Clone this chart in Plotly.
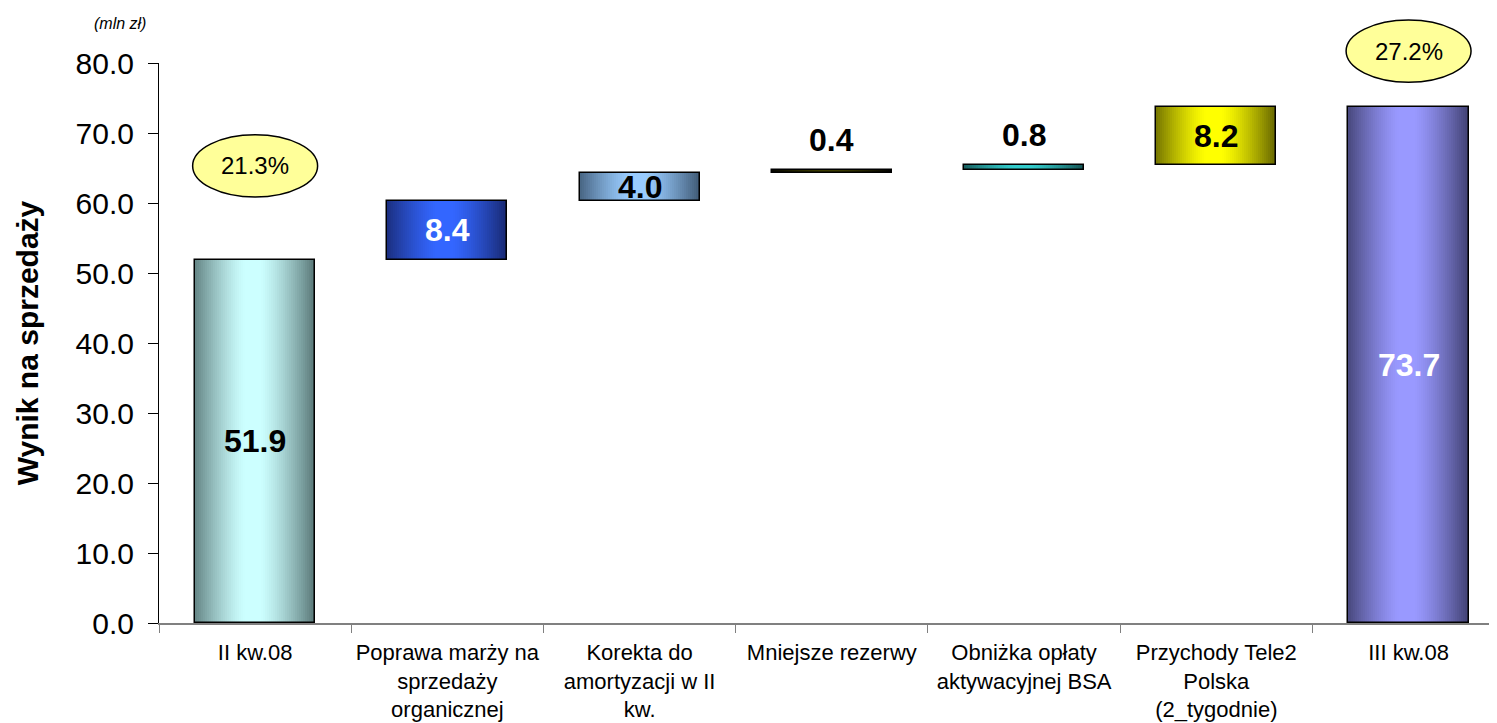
import plotly.graph_objects as go

# Data -----------------------------------------------------------------
categories = [
    "II kw.08",
    "Poprawa marży na<br>sprzedaży<br>organicznej",
    "Korekta do<br>amortyzacji w II<br>kw.",
    "Mniejsze rezerwy",
    "Obniżka opłaty<br>aktywacyjnej BSA",
    "Przychody Tele2<br>Polska<br>(2_tygodnie)",
    "III kw.08",
]
values = [51.9, 8.4, 4.0, 0.4, 0.8, 8.2, 73.7]
is_total = [True, False, False, False, False, False, True]
margin_labels = ["21.3%", "27.2%"]
margin_idx = [0, 6]

# (edge colour, centre colour) of each bar's horizontal gradient
bar_colors = [
    ((88, 118, 118), (204, 255, 255)),
    ((24, 40, 112), (51, 102, 255)),
    ((62, 88, 115), (153, 204, 255)),
    ((0, 0, 0), (60, 60, 0)),
    ((20, 80, 80), (51, 204, 204)),
    ((100, 100, 0), (255, 255, 0)),
    ((64, 64, 112), (153, 153, 255)),
]
label_color = ["black", "white", "black", "black", "black", "black", "white"]
label_inside = [True, True, True, False, False, True, True]

# ----------------------------------------------------------------------
FONT = "Liberation Sans, Arial, sans-serif"
BAR_W = 0.625
N_SLICES = 60
X_RANGE = [-0.5, 6.46]
Y_RANGE = [0, 80]

# waterfall bases
bases, running = [], 0.0
for v, tot in zip(values, is_total):
    if tot:
        bases.append(0.0)
        running = v
    else:
        bases.append(running)
        running += v
tops = [b + v for b, v in zip(bases, values)]


def grad(edge, centre, pos):
    t = abs(pos - 0.48) / 0.52
    t = min(max((t - 0.12) / 0.88, 0), 1) ** 1.3
    c = [round(centre[i] + (edge[i] - centre[i]) * t) for i in range(3)]
    return f"rgb({c[0]},{c[1]},{c[2]})"


fig = go.Figure()

# gradient made of thin slices
step = BAR_W / N_SLICES
for k in range(N_SLICES):
    pos = (k + 0.5) / N_SLICES
    fig.add_trace(go.Bar(
        x=categories, y=values, base=bases,
        width=step * 2 if k < N_SLICES - 1 else step,
        offset=-BAR_W / 2 + k * step,
        marker=dict(color=[grad(e, c, pos) for e, c in bar_colors], line_width=0),
        hoverinfo="skip", showlegend=False,
    ))

# outline
fig.add_trace(go.Bar(
    x=categories, y=values, base=bases, width=BAR_W,
    marker=dict(color="rgba(0,0,0,0)", line=dict(color="black", width=1.5)),
    showlegend=False,
))

# value labels
for i, v in enumerate(values):
    if label_inside[i]:
        fig.add_annotation(x=categories[i], y=bases[i] + v / 2, text=f"<b>{v:.1f}</b>",
                           showarrow=False, yanchor="middle",
                           font=dict(family=FONT, size=32, color=label_color[i]))
    else:
        fig.add_annotation(x=categories[i], y=tops[i], text=f"<b>{v:.1f}</b>",
                           showarrow=False, yanchor="bottom", yshift=10,
                           font=dict(family=FONT, size=32, color=label_color[i]))


def px_x(i):
    return (i - X_RANGE[0]) / (X_RANGE[1] - X_RANGE[0])


def px_y(v):
    return (v - Y_RANGE[0]) / (Y_RANGE[1] - Y_RANGE[0])


# margin ellipses
ell_y = [65.3, 81.7]
half_w, half_h = 0.325, 4.45
for lab, i, yc in zip(margin_labels, margin_idx, ell_y):
    fig.add_shape(type="circle", xref="paper", yref="paper",
                  x0=px_x(i - half_w), x1=px_x(i + half_w),
                  y0=px_y(yc - half_h), y1=px_y(yc + half_h),
                  fillcolor="#FFFF99", line=dict(color="black", width=1.5))
    fig.add_annotation(xref="paper", yref="paper", x=px_x(i), y=px_y(yc), text=lab,
                       xanchor="center", yanchor="middle",
                       showarrow=False, font=dict(family=FONT, size=24, color="black"))

fig.add_annotation(xref="paper", yref="paper", x=-0.029, y=1.07, text="<i>(mln zł)</i>",
                   xanchor="center", yanchor="middle",
                   showarrow=False, font=dict(family=FONT, size=16, color="black"))

fig.update_layout(
    width=1497, height=723,
    margin=dict(l=151, r=8, t=55, b=108, autoexpand=False),
    paper_bgcolor="white", plot_bgcolor="white",
    barmode="overlay", bargap=0,
    font=dict(family=FONT, color="black"),
)
fig.update_xaxes(
    type="category", range=X_RANGE, tickson="boundaries",
    ticks="outside", ticklen=8, tickcolor="#808080", tickangle=0,
    showline=True, linecolor="#808080", linewidth=1.5,
    tickfont=dict(family=FONT, size=22, color="black"),
    ticklabelstandoff=9,
    showgrid=False, automargin=False,
)
fig.update_yaxes(
    range=Y_RANGE, dtick=10, tickformat=".1f",
    ticks="outside", ticklen=10, tickcolor="black",
    showline=True, linecolor="black", linewidth=1,
    tickfont=dict(family=FONT, size=30, color="black"),
    ticklabelstandoff=8,
    title=dict(text="<b>Wynik na sprzedaży</b>", font=dict(family=FONT, size=30), standoff=28),
    showgrid=False, zeroline=False, automargin=False,
)

fig.write_html("out.html")
